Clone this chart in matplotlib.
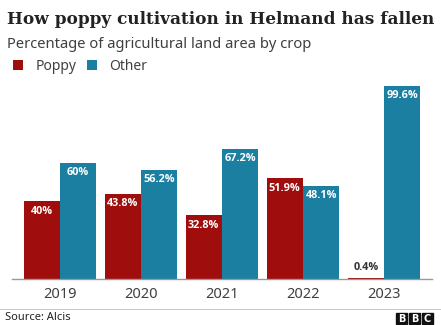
import matplotlib
matplotlib.use('Agg')
import matplotlib.pyplot as plt
import numpy as np
from matplotlib.patches import Rectangle
from matplotlib.lines import Line2D

#===========data===========
years = ['2019', '2020', '2021', '2022', '2023']
poppy = [40, 43.8, 32.8, 51.9, 0.4]
other = [60, 56.2, 67.2, 48.1, 99.6]
poppy_labels = ['40%', '43.8%', '32.8%', '51.9%', '0.4%']
other_labels = ['60%', '56.2%', '67.2%', '48.1%', '99.6%']

RED = '#a00d0d'
BLUE = '#1a7fa1'
GREY = '#404040'
LABEL_FONT = ['Open Sans', 'DejaVu Sans']

plt.rcParams['font.family'] = ['Noto Sans', 'DejaVu Sans']

W, H = 441, 325
fig = plt.figure(figsize=(W/100, H/100), dpi=100)
ax = fig.add_axes([12/W, 46/H, 420/W, 193.8/H])

x = np.arange(len(years))
w = 0.45
ax.bar(x - w/2, poppy, w, color=RED, label='Poppy')
ax.bar(x + w/2, other, w, color=BLUE, label='Other')

def put_labels(xs, vals, labels):
    for xi, v, lab in zip(xs, vals, labels):
        if v > 5:
            ax.annotate(lab, (xi, v), xytext=(0, -3), textcoords='offset points',
                        ha='center', va='top', color='white', fontsize=7.8,
                        fontweight='bold', family=LABEL_FONT)
        else:
            ax.annotate(lab, (xi, v), xytext=(0, 4), textcoords='offset points',
                        ha='center', va='bottom', color='#333333', fontsize=7.8,
                        fontweight='bold', family=LABEL_FONT)

put_labels(x - w/2, poppy, poppy_labels)
put_labels(x + w/2, other, other_labels)

ax.set_xlim(-0.593, 4.593)
ax.set_ylim(0, 100)
ax.set_xticks(x)
ax.set_xticklabels(years, fontsize=10.5, color=GREY)
ax.tick_params(axis='x', length=0, pad=6)
ax.set_yticks([])
for s in ['top', 'right', 'left']:
    ax.spines[s].set_visible(False)
ax.spines['bottom'].set_color('#999999')
ax.spines['bottom'].set_linewidth(1)

ax.legend(loc='upper left', bbox_to_anchor=(13/W, 1 - 59/H), bbox_transform=fig.transFigure,
          ncol=2, frameon=False, handlelength=0.75, handleheight=0.75, handletextpad=0.85,
          columnspacing=0.75, fontsize=10, borderaxespad=0, borderpad=0,
          labelcolor=GREY)

fig.text(7/W, 1 - 20/H, 'How poppy cultivation in Helmand has fallen', ha='left', va='center',
         fontsize=12.2, fontweight='bold', family='DejaVu Serif', color='#222222')
fig.text(7/W, 1 - 45/H, 'Percentage of agricultural land area by crop', ha='left', va='center',
         fontsize=10.6, color=GREY)

fig.add_artist(Line2D([0, 1], [1 - 309/H, 1 - 309/H], color='#cccccc', lw=0.8))
fig.text(5/W, 1 - 318/H, 'Source: Alcis', ha='left', va='center', fontsize=8, color='#222222')

for i, ch in enumerate('BBC'):
    x0 = (396 + i * 13) / W
    fig.add_artist(Rectangle((x0, 1 - 324/H), 11/W, 11/H, color='#111111',
                             transform=fig.transFigure))
    fig.text(x0 + 5.5/W, 1 - 318.5/H, ch, ha='center', va='center', fontsize=7,
             fontweight='bold', family='DejaVu Sans', color='white')

fig.savefig('out.png', dpi=100)
